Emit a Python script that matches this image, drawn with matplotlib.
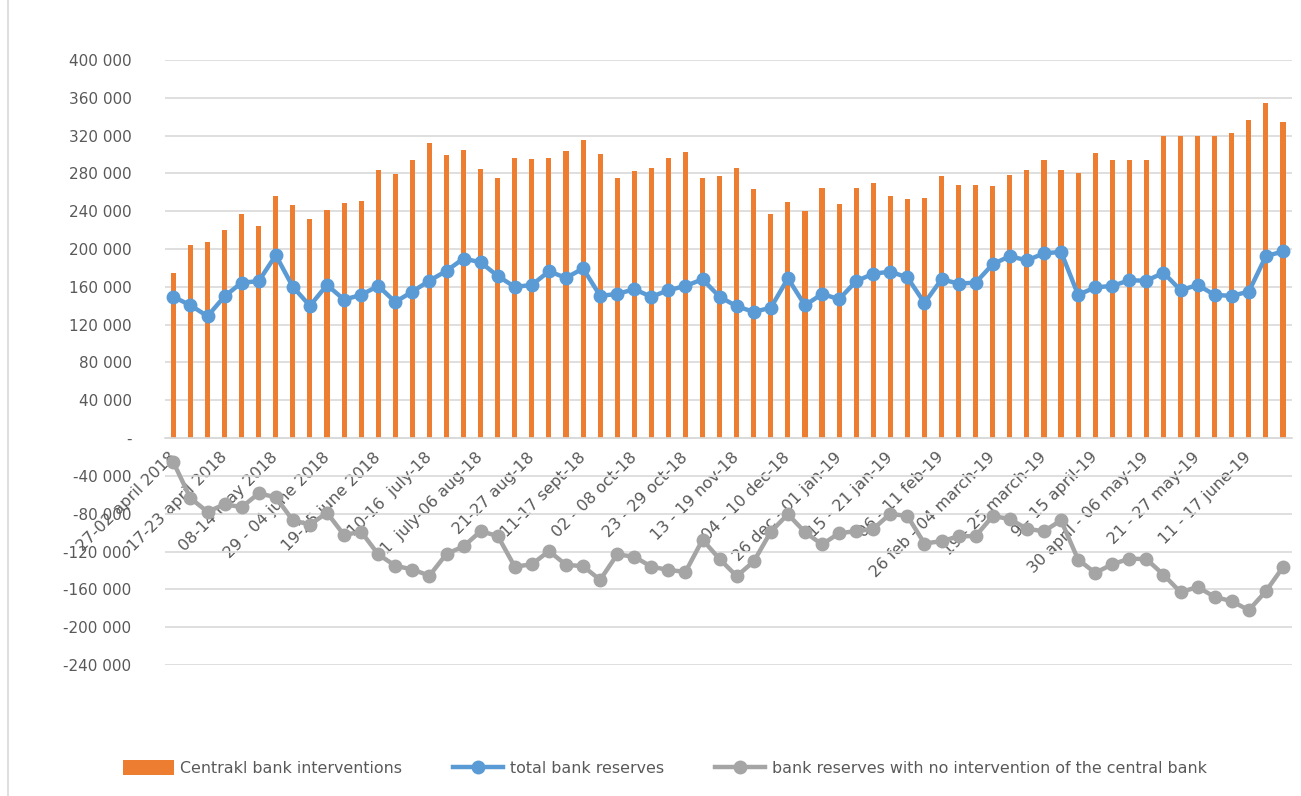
import matplotlib.pyplot as plt
from matplotlib.lines import Line2D
from matplotlib.ticker import FuncFormatter
import numpy as np

# weekly values, 66 weeks from april 2018 to june 2019
interventions = [175000, 204000, 207000, 220000, 237500, 224500, 256000, 247000, 231500, 241000,
                 249000, 250500, 284000, 279000, 294000, 312000, 299500, 304500, 284500, 275000,
                 296000, 295500, 296000, 303500, 315000, 300500, 275500, 283000, 285500, 296000,
                 302500, 275500, 277500, 285500, 264000, 237000, 249500, 240000, 265000, 247500,
                 264500, 270000, 256000, 252500, 254500, 277000, 267500, 268000, 266500, 278000,
                 284000, 294000, 284000, 280000, 302000, 294500, 294500, 294500, 319500, 319500,
                 319500, 319500, 323000, 337000, 354500, 334000]

total_reserves = [149500, 140500, 129000, 150000, 164500, 166000, 193500, 160000, 140000, 162000,
                  146500, 151500, 161000, 144000, 155000, 166500, 177000, 190000, 186000, 171500,
                  160000, 162000, 176500, 169500, 179500, 150500, 152500, 157500, 149500, 156500,
                  161000, 168000, 149500, 139500, 133500, 138000, 169000, 140500, 152500, 147000,
                  166000, 174000, 176000, 170000, 143000, 168000, 163500, 164500, 184000, 192500,
                  188000, 195500, 197000, 151500, 159500, 161000, 167000, 166500, 175000, 156500,
                  162000, 151500, 150500, 155000, 192500, 197500]

no_intervention = [-25500, -63500, -78000, -70000, -73000, -58500, -62500, -87000, -91500, -79000,
                   -102500, -99000, -123000, -135000, -139000, -145500, -122500, -114500, -98500, -103500,
                   -136000, -133500, -119500, -134000, -135500, -150000, -123000, -125500, -136000, -139500,
                   -141500, -107500, -128000, -146000, -130500, -99000, -80500, -99500, -112500, -100500,
                   -98500, -96000, -80000, -82500, -111500, -109000, -104000, -103500, -82500, -85500,
                   -96000, -98500, -87000, -128500, -142500, -133500, -127500, -128000, -144500, -163000,
                   -157500, -168000, -172500, -182000, -162000, -136500]

# only every third week gets a label
week_labels = ["27-02 april 2018", "17-23 april 2018", "08-14 may 2018", "29 - 04 june 2018",
               "19-25 june 2018", "10-16  july-18", "31  july-06 aug-18", "21-27 aug-18",
               "11-17 sept-18", "02 - 08 oct-18", "23 - 29 oct-18", "13 - 19 nov-18",
               "04 - 10 dec-18", "26 dec - 01 jan-19", "15 - 21 jan-19", "06 - 11 feb-19",
               "26 feb - 04 march-19", "19 - 25 march-19", "9 - 15 april-19",
               "30 april - 06 may-19", "21 - 27 may-19", "11 - 17 june-19"]

orange = '#ED7D31'
blue = '#5B9BD5'
gray = '#A5A5A5'
text_col = '#595959'

fig = plt.figure(figsize=(13.01, 7.96), dpi=100)
ax = fig.add_axes([0.1267, 0.1646, 0.866, 0.76])

x = np.arange(len(interventions))

bars = ax.bar(x, interventions, width=0.3, color=orange, zorder=2,
              label='Centrakl bank interventions')
l1, = ax.plot(x, total_reserves, color=blue, lw=3.2, marker='o', ms=9, zorder=4,
              label='total bank reserves')
l2, = ax.plot(x, no_intervention, color=gray, lw=3.2, marker='o', ms=9, zorder=4,
              label='bank reserves with no intervention of the central bank')

ax.set_xlim(-0.5, len(x) - 0.5)
ax.set_ylim(-240000, 400000)
ax.set_yticks(np.arange(-240000, 400001, 40000))
ax.yaxis.set_major_formatter(FuncFormatter(
    lambda v, p: '-' if v == 0 else f'{int(v):,}'.replace(',', ' ')))
ax.grid(axis='y', color='#D9D9D9', lw=1.2, zorder=0)
ax.set_axisbelow(True)

for s in ['top', 'right', 'left']:
    ax.spines[s].set_visible(False)
ax.spines['bottom'].set_position(('data', 0))
ax.spines['bottom'].set_color('#D9D9D9')
ax.spines['bottom'].set_linewidth(1.2)

ax.set_xticks(x[::3])
ax.set_xticklabels(week_labels, rotation=45, ha='right', va='center',
                   rotation_mode='anchor', fontsize=11.5, color=text_col)
ax.tick_params(axis='x', length=0, pad=12)
ax.tick_params(axis='y', length=0, labelsize=11, labelcolor=text_col, pad=24)

fig.legend(handles=[bars, l1, l2], loc='center', bbox_to_anchor=(0.511, 0.035), ncol=3,
           frameon=False, fontsize=11.4, labelcolor=text_col, handlelength=3.2,
           handleheight=1.0, columnspacing=3.2, handletextpad=0.4)

# thin frame line on the left edge
fig.add_artist(Line2D([8 / 1301, 8 / 1301], [0, 1], color='#D9D9D9', lw=1.2))

fig.savefig('out.png', dpi=100)
